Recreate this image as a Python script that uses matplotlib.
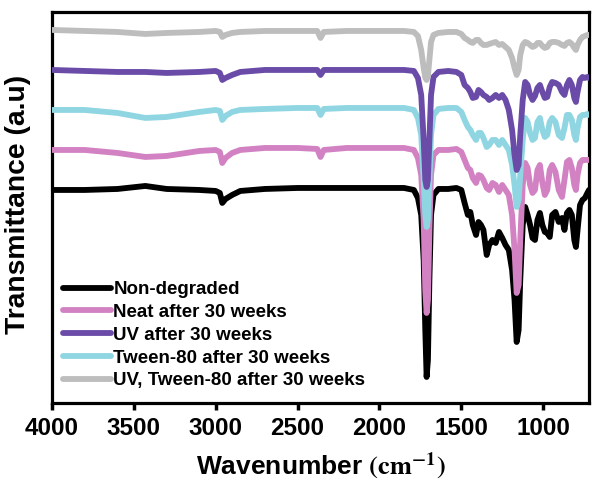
import numpy as np
import matplotlib
matplotlib.use("Agg")
import matplotlib.pyplot as plt

plt.rcParams['font.family'] = ['Liberation Sans', 'DejaVu Sans']
plt.rcParams['font.weight'] = 'bold'
plt.rcParams['mathtext.fontset'] = 'stix'

# wavenumber grid (cm-1)
wavenumber = [4000, 3800, 3600, 3430, 3300, 3100, 3000, 2975, 2960, 2940,
              2900, 2850, 2700, 2500, 2380, 2360, 2340, 2200, 2000, 1850,
              1790, 1765, 1745, 1730, 1720, 1712, 1704, 1695, 1685, 1670,
              1640, 1580, 1530, 1500, 1480, 1460, 1445, 1430, 1410, 1395,
              1380, 1365, 1345, 1330, 1310, 1290, 1270, 1250, 1230, 1210,
              1190, 1175, 1162, 1150, 1140, 1125, 1110, 1095, 1080, 1065,
              1050, 1035, 1020, 1005, 990, 975, 960, 945, 925, 905,
              885, 870, 855, 840, 825, 810, 800, 790, 775, 760,
              745, 730, 720]

# stacked transmittance (a.u.)
non_degraded = [210, 210, 211, 214, 211, 210, 209, 207, 197, 201,
                205, 209, 211, 212, 212, 212, 212, 212, 212, 212,
                210, 202, 185, 140, 70, 23, 40, 120, 185, 205,
                211, 211, 212, 210, 197, 185, 188, 175, 165, 178,
                175, 170, 145, 155, 160, 157, 168, 162, 155, 150,
                130, 100, 58, 70, 120, 175, 193, 185, 175, 162,
                160, 180, 187, 175, 168, 167, 163, 185, 188, 178,
                182, 170, 187, 190, 185, 160, 153, 170, 195, 200,
                202, 207, 210]

neat_30w = [250, 250, 247, 243, 244, 249, 250, 248, 237, 242,
            247, 250, 252, 252, 251, 243, 250, 252, 252, 252,
            250, 242, 225, 180, 110, 87, 100, 170, 225, 245,
            250, 250, 251, 248, 240, 232, 230, 222, 217, 225,
            224, 220, 212, 210, 217, 215, 208, 215, 210, 205,
            185, 150, 107, 115, 160, 215, 237, 232, 215, 207,
            210, 230, 235, 217, 205, 210, 230, 235, 228, 210,
            203, 220, 238, 240, 232, 215, 210, 225, 237, 240,
            240, 240, 240]

uv_30w = [330, 329, 328, 328, 327, 328, 329, 327, 320, 322,
          325, 328, 330, 330, 330, 325, 330, 330, 330, 330,
          329, 322, 305, 260, 220, 213, 220, 260, 305, 323,
          328, 329, 328, 325, 315, 312, 308, 302, 303, 310,
          308, 305, 303, 300, 302, 305, 302, 305, 300, 290,
          270, 245, 230, 235, 265, 300, 318, 315, 305, 300,
          304, 312, 315, 308, 302, 303, 313, 318, 317, 315,
          308, 305, 315, 320, 315, 302, 298, 308, 320, 323,
          322, 323, 322]

tween_30w = [290, 290, 287, 282, 283, 288, 290, 289, 280, 284,
             288, 290, 291, 292, 292, 285, 291, 292, 292, 292,
             290, 282, 265, 220, 185, 173, 180, 220, 265, 285,
             291, 292, 292, 288, 280, 273, 270, 265, 260, 267,
             267, 262, 253, 255, 260, 260, 255, 260, 255, 250,
             235, 215, 193, 200, 225, 260, 282, 278, 267, 260,
             262, 278, 282, 270, 263, 265, 278, 282, 278, 265,
             262, 272, 285, 285, 280, 265, 260, 272, 283, 285,
             285, 286, 285]

uv_tween_30w = [370, 369, 368, 366, 367, 368, 369, 368, 363, 365,
                367, 368, 369, 369, 369, 362, 368, 369, 369, 369,
                368, 364, 350, 332, 322, 320, 324, 340, 358, 365,
                367, 368, 368, 366, 362, 360, 358, 357, 360, 360,
                357, 355, 355, 356, 357, 358, 355, 356, 353, 350,
                342, 332, 325, 330, 345, 355, 358, 357, 355, 353,
                354, 357, 357, 354, 352, 353, 357, 358, 358, 357,
                355, 354, 357, 358, 356, 352, 350, 355, 360, 363,
                364, 365, 365]

labels = ['Non-degraded', 'Neat after 30 weeks', 'UV after 30 weeks',
          'Tween-80 after 30 weeks', 'UV, Tween-80 after 30 weeks']
colors = ['#000000', '#d282c2', '#6a4ca8', '#8fd6e2', '#bdbdbd']
series = [non_degraded, neat_30w, uv_30w, tween_30w, uv_tween_30w]
zorders = [2, 3, 5, 4, 6]

fig = plt.figure(figsize=(5.93, 4.84), dpi=100)
ax = fig.add_axes([0.0877, 0.1674, 0.9056, 0.8079])

handles = []
for y, c, lab, z in zip(series, colors, labels, zorders):
    ln, = ax.plot(wavenumber, y, color=c, lw=4.2, label=lab, zorder=z,
                  solid_joinstyle='round', solid_capstyle='round')
    handles.append(ln)

ax.set_xlim(4000, 720)
ax.set_ylim(-3, 388)
ax.set_xticks([4000, 3500, 3000, 2500, 2000, 1500, 1000])
ax.set_yticks([])
ax.tick_params(axis='x', direction='out', length=5, width=2.5,
               labelsize=17.5, pad=5)
for sp in ax.spines.values():
    sp.set_linewidth(2.3)

ax.set_xlabel(r'Wavenumber $\mathbf{(cm^{-1})}$', fontsize=19, fontweight='bold', labelpad=8)
ax.set_ylabel('Transmittance (a.u)', fontsize=20.3, fontweight='bold')
ax.yaxis.set_label_coords(-0.04, 0.507)

leg = ax.legend(handles=handles, loc='lower left', bbox_to_anchor=(0.02, 0.035),
                frameon=False, fontsize=13.5, handlelength=2.6, handletextpad=0.1,
                labelspacing=0.3, borderpad=0, borderaxespad=0)
for t in leg.get_texts():
    t.set_fontweight('bold')

fig.savefig('out.png', dpi=100)
